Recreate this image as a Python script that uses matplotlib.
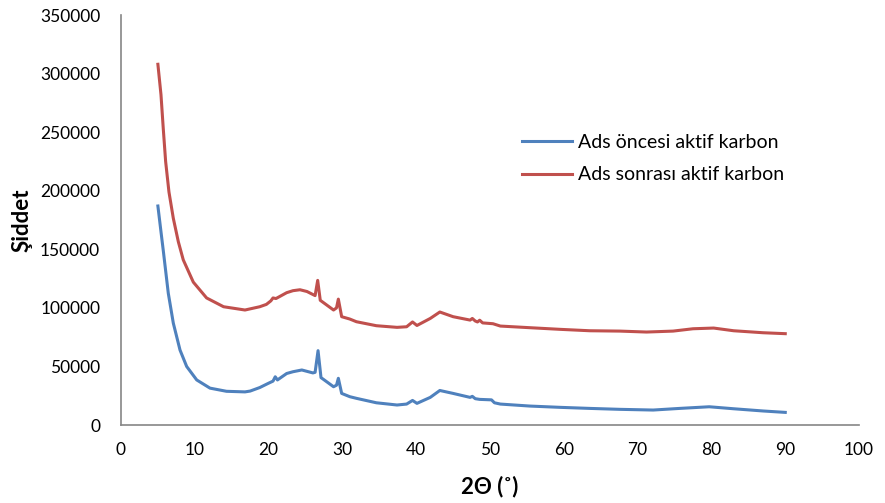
import matplotlib.pyplot as plt
import matplotlib.ticker as ticker

plt.rcParams['font.family'] = ['Lato', 'DejaVu Sans']

# XRD verileri: 2θ (derece) ve şiddet
theta_once = [5.0, 5.42, 5.73, 6.41, 7.09, 8.0, 8.9, 10.26, 12.06, 14.3, 16.8, 17.5,
              18.8, 19.96, 20.6, 20.9, 21.2, 22.45, 23.3, 24.5, 26.0, 26.3, 26.7,
              27.1, 28.8, 29.2, 29.45, 29.9, 31.0, 31.9, 34.6, 37.4, 38.7, 39.5,
              40.1, 41.9, 43.2, 45.0, 47.3, 47.6, 48.0, 48.6, 50.2, 50.6, 51.4,
              55.4, 59.5, 63.5, 67.6, 72.1, 75.7, 79.7, 83.0, 87.0, 90.0]
siddet_once = [187000, 165000, 149000, 112500, 87000, 64000, 50000, 38500, 31500,
               28800, 28300, 29000, 32000, 35600, 37500, 41200, 38500, 44000,
               45500, 47000, 44500, 45000, 63500, 40500, 32700, 34000, 39900,
               27000, 24200, 22800, 19000, 17100, 17900, 21000, 18500, 23600,
               29500, 27000, 23600, 24500, 22500, 21900, 21500, 19000, 17900,
               16200, 15100, 14200, 13400, 12800, 14200, 15600, 13900, 12000,
               10800]

theta_sonra = [5.0, 5.42, 5.73, 6.05, 6.5, 7.09, 7.77, 8.44, 9.8, 11.6, 13.9, 16.8,
               18.8, 19.7, 20.3, 20.6, 21.0, 22.45, 23.3, 24.25, 25.2, 26.3, 26.65,
               27.0, 28.8, 29.2, 29.45, 29.9, 31.0, 31.9, 34.6, 37.4, 38.7, 39.5,
               40.1, 41.9, 43.2, 45.0, 47.3, 47.6, 48.0, 48.3, 48.6, 49.0, 50.4,
               51.4, 55.4, 59.5, 63.5, 67.6, 71.2, 74.8, 77.5, 80.3, 83.0, 87.0,
               90.0]
siddet_sonra = [308000, 282000, 253000, 225000, 199000, 176500, 156500, 141000,
                122000, 108500, 101000, 98200, 101000, 103000, 106000, 108500,
                108000, 113000, 114700, 115500, 114000, 110500, 123500, 106500,
                98200, 100000, 107500, 92500, 90500, 88200, 84800, 83400, 83900,
                88000, 85000, 91000, 96500, 92500, 89600, 91000, 88800, 88000,
                89500, 87200, 86500, 84500, 83100, 81700, 80500, 80200, 79400,
                80200, 82200, 82800, 80500, 78800, 78000]

fig = plt.figure(figsize=(8.85, 5.03), dpi=100)
ax = fig.add_axes([0.1367, 0.155, 0.834, 0.815])

ax.plot(theta_once, siddet_once, color='#4F81BD', lw=2.2, label='Ads öncesi aktif karbon')
ax.plot(theta_sonra, siddet_sonra, color='#C0504D', lw=2.2, label='Ads sonrası aktif karbon')

ax.set_xlim(0, 100)
ax.set_ylim(0, 350000)
ax.xaxis.set_major_locator(ticker.MultipleLocator(10))
ax.yaxis.set_major_locator(ticker.MultipleLocator(50000))

for s in ['top', 'right']:
    ax.spines[s].set_visible(False)
for s in ['left', 'bottom']:
    ax.spines[s].set_color('#868686')
    ax.spines[s].set_linewidth(1.2)

ax.tick_params(axis='y', length=0, pad=15, labelsize=12.5, colors='black')
ax.tick_params(axis='x', length=0, pad=12, labelsize=12.5, colors='black')

ax.set_ylabel('Şiddet', fontsize=16, fontweight='bold', labelpad=5)
ax.set_xlabel('2Θ (˚)', fontsize=16, fontweight='bold', labelpad=13)

ax.legend(loc='center left', bbox_to_anchor=(0.543, 0.65), frameon=False,
          fontsize=14, handlelength=2.6, handletextpad=0.3, labelspacing=0.8,
          borderpad=0, borderaxespad=0)

fig.savefig('out.png', dpi=100)
